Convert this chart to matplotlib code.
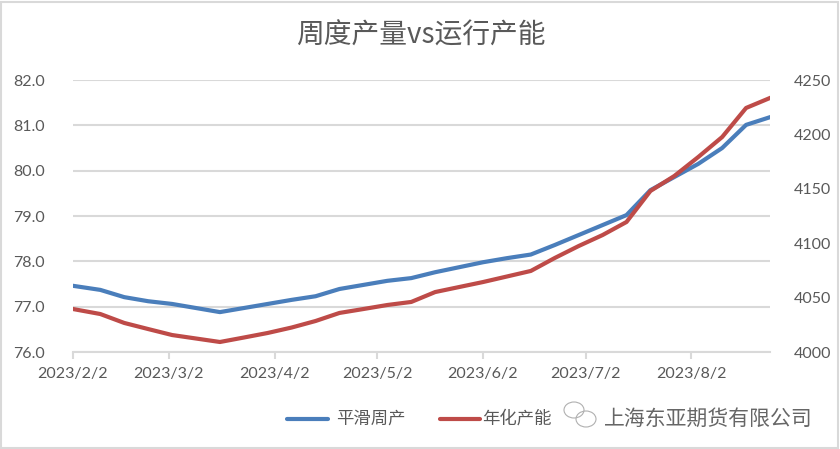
import matplotlib
matplotlib.use('Agg')
import matplotlib.pyplot as plt
import matplotlib.dates as mdates
from matplotlib.patches import Ellipse, Rectangle
import numpy as np

plt.rcParams['font.family'] = ['Noto Sans CJK SC', 'DejaVu Sans']

# weekly dates (first point 2/2, then Fridays)
dates = np.array(['2023-02-02', '2023-02-10', '2023-02-17', '2023-02-24', '2023-03-03',
                  '2023-03-10', '2023-03-17', '2023-03-24', '2023-03-31', '2023-04-07',
                  '2023-04-14', '2023-04-21', '2023-04-28', '2023-05-05', '2023-05-12',
                  '2023-05-19', '2023-05-26', '2023-06-02', '2023-06-09', '2023-06-16',
                  '2023-06-23', '2023-06-30', '2023-07-07', '2023-07-14', '2023-07-21',
                  '2023-07-28', '2023-08-04', '2023-08-11', '2023-08-18', '2023-08-25'],
                 dtype='datetime64[D]')

smooth_weekly = [77.46, 77.37, 77.21, 77.12, 77.06, 76.97, 76.88, 76.97, 77.06, 77.15,
                 77.23, 77.39, 77.48, 77.57, 77.63, 77.76, 77.87, 77.98, 78.07, 78.15,
                 78.36, 78.58, 78.80, 79.02, 79.57, 79.86, 80.15, 80.50, 81.01, 81.18]

annual_capacity = [4039.5, 4034.9, 4026.7, 4021.1, 4015.6, 4012.4, 4009.2, 4013.3, 4017.5, 4022.5,
                   4028.5, 4035.9, 4039.5, 4043.2, 4046.0, 4055.1, 4059.7, 4064.3, 4069.4, 4074.5,
                   4086.4, 4097.4, 4107.5, 4119.5, 4148.0, 4161.8, 4179.2, 4197.6, 4224.3, 4233.5]

left_ticks = [76.0, 77.0, 78.0, 79.0, 80.0, 81.0, 82.0]
right_ticks = [4000, 4050, 4100, 4150, 4200, 4250]

title = '周度产量vs运行产能'
series_names = ['平滑周产', '年化产能']
watermark = '上海东亚期货有限公司'

blue = '#4a7ebb'
red = '#be4b48'
grey_txt = '#595959'
grid_c = '#d9d9d9'

W, H = 840, 449
fig = plt.figure(figsize=(W / 100, H / 100), dpi=100)
ax = fig.add_axes([73 / W, 1 - 352 / H, (770 - 73) / W, (352 - 80) / H])
ax2 = ax.twinx()

x = dates.astype('datetime64[D]').astype(object)
ax.plot(x, smooth_weekly, color=blue, lw=3, solid_joinstyle='round', zorder=3)
ax2.plot(x, annual_capacity, color=red, lw=3, solid_joinstyle='round', zorder=3)

ax.set_ylim(76, 82)
ax2.set_ylim(4000, 4250)
ax.set_xlim(x[0], x[-1])
ax.set_yticks(left_ticks)
ax.set_yticklabels([f'{v:.1f}' for v in left_ticks])
ax2.set_yticks(right_ticks)
ax2.set_yticklabels([str(v) for v in right_ticks])

ax.xaxis.set_major_locator(mdates.MonthLocator(bymonthday=2))
ax.xaxis.set_major_formatter(plt.FuncFormatter(
    lambda v, p: '{0}/{1}/{2}'.format(mdates.num2date(v).year, mdates.num2date(v).month, mdates.num2date(v).day)))

ax.grid(axis='y', color=grid_c, lw=1.5)
ax.set_axisbelow(True)
for a in (ax, ax2):
    for s in ('top', 'left', 'right'):
        a.spines[s].set_visible(False)
    a.spines['bottom'].set_visible(False)
ax.spines['bottom'].set_visible(True)
ax.spines['bottom'].set_color(grid_c)
ax.spines['bottom'].set_linewidth(1.5)

ax.tick_params(axis='x', colors=grid_c, length=5, width=1.5, pad=6, labelcolor=grey_txt, labelsize=11.5)
ax.tick_params(axis='y', length=0, pad=20, labelcolor=grey_txt, labelsize=11.5)
ax2.tick_params(axis='y', length=0, pad=17, labelcolor=grey_txt, labelsize=11.5)
for lab in ax.get_xticklabels() + ax.get_yticklabels() + ax2.get_yticklabels():
    lab.set_family(['Lato', 'DejaVu Sans'])

fig.text(421 / W, 1 - 36 / H, title, ha='center', va='center', fontsize=20,
         color=grey_txt, fontweight='light')

# legend drawn by hand at bottom
ly = 1 - 419 / H
fig.add_artist(plt.Line2D([287 / W, 328 / W], [ly, ly], color=blue, lw=3, solid_capstyle='round'))
fig.text(336 / W, ly, series_names[0], ha='left', va='center', fontsize=12.5, color=grey_txt)
fig.add_artist(plt.Line2D([440 / W, 480 / W], [ly, ly], color=red, lw=3, solid_capstyle='round'))
fig.text(482 / W, ly, series_names[1], ha='left', va='center', fontsize=12.5, color=grey_txt)

# watermark with a rough chat-bubble icon
fig.add_artist(Ellipse((574 / W, 1 - 410 / H), 20 / W, 16 / H, fill=False, ec='#b0b0b0', lw=0.8))
fig.add_artist(Ellipse((586 / W, 1 - 419 / H), 20 / W, 16 / H, fill=False, ec='#b0b0b0', lw=0.8))
fig.text(604 / W, ly, watermark, ha='left', va='center', fontsize=15, color='#666666',
         fontweight='light')

fig.add_artist(Rectangle((1 / W, 1 / H), (W - 3) / W, (H - 3) / H, transform=fig.transFigure,
                         fill=False, ec=grid_c, lw=1.5))

fig.savefig('out.png', dpi=100)
